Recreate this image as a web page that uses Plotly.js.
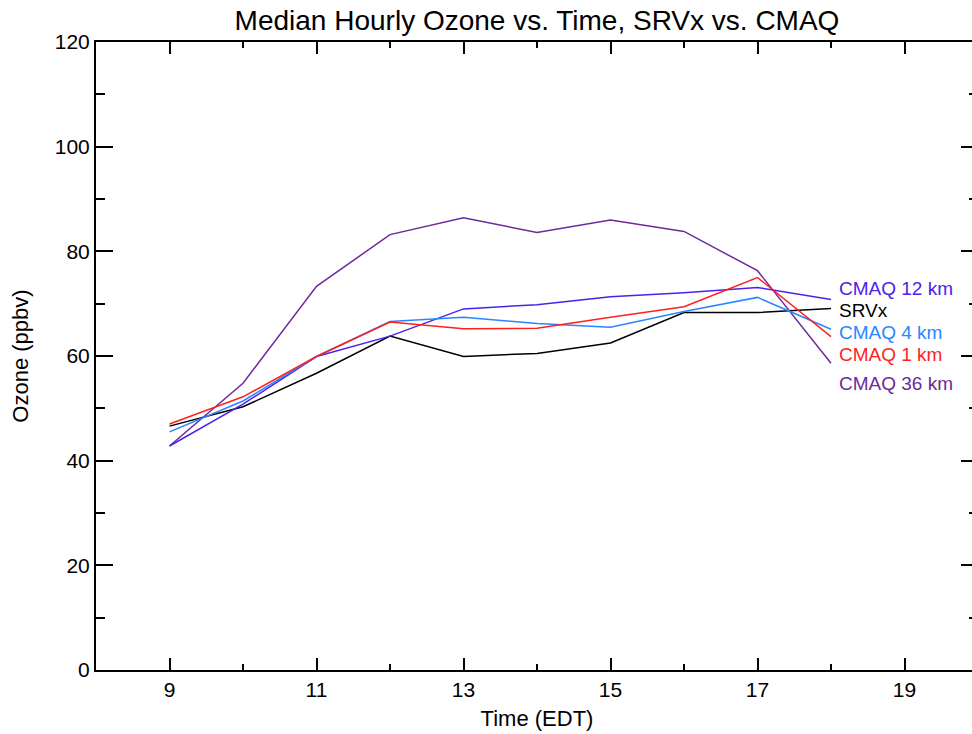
<!DOCTYPE html>
<html>
<head>
<meta charset="utf-8">
<script src="https://cdn.plot.ly/plotly-3.0.1.min.js"></script>
<style>
html, body { margin: 0; padding: 0; overflow: hidden; background: #fff; }
#chart { width: 978px; height: 734px; }
</style>
</head>
<body>
<div id="chart"></div>
<script>
const hours = [9, 10, 11, 12, 13, 14, 15, 16, 17, 18];
const srvx   = [46.6, 50.3, 56.7, 63.8, 59.9, 60.5, 62.5, 68.3, 68.3, 69.1];
const cmaq36 = [42.8, 54.8, 73.3, 83.2, 86.4, 83.6, 86.0, 83.8, 76.3, 58.6];
const cmaq12 = [42.8, 50.8, 59.9, 63.8, 69.0, 69.8, 71.3, 72.1, 73.1, 70.8];
const cmaq4  = [45.5, 51.4, 59.9, 66.6, 67.4, 66.2, 65.5, 68.5, 71.2, 65.1];
const cmaq1  = [47.0, 52.2, 59.9, 66.5, 65.2, 65.3, 67.4, 69.4, 75.0, 63.7];

const seriesNames = ["CMAQ 12 km", "SRVx", "CMAQ 4 km", "CMAQ 1 km", "CMAQ 36 km"];
const seriesData = [cmaq12, srvx, cmaq4, cmaq1, cmaq36];
const seriesColors = ["#4a22ee", "#000000", "#2a86ff", "#ff1f1f", "#6c2a9c"];
const labelY = [72.9, 68.6, 64.4, 60.2, 54.7];
const labelX = 18.1;

const drawOrder = [1, 4, 0, 2, 3];
const traces = drawOrder.map(i => ({
  x: hours, y: seriesData[i], type: 'scatter', mode: 'lines',
  name: seriesNames[i], line: { color: seriesColors[i], width: 1.5 },
  hoverinfo: 'skip'
}));

const annotations = seriesNames.map((n, i) => ({
  x: labelX, y: labelY[i], xref: 'x', yref: 'y', text: n, showarrow: false,
  xanchor: 'left', yanchor: 'middle', borderpad: 0,
  font: { family: 'Liberation Sans, Arial, sans-serif', size: 19, color: seriesColors[i] }
}));

const font = { family: 'Liberation Sans, Arial, sans-serif', size: 21, color: '#000' };
const titleFont = { family: 'Liberation Sans, Arial, sans-serif', size: 22, color: '#000' };

const layout = {
  width: 978, height: 734,
  margin: { l: 96, r: 0, t: 42, b: 64, pad: 0 },
  paper_bgcolor: '#fff', plot_bgcolor: '#fff',
  showlegend: false,
  font: font,
  title: { text: 'Median Hourly Ozone vs. Time, SRVx vs. CMAQ', x: 0.5, xref: 'paper',
           y: 1 - 20 / 734, yref: 'container', yanchor: 'middle',
           font: { family: 'Liberation Sans, Arial, sans-serif', size: 28, color: '#000' } },
  xaxis: {
    range: [8, 20], tick0: 9, dtick: 2, ticks: 'inside', ticklen: 12, tickwidth: 2,
    tickcolor: '#000', showline: true, linewidth: 2, linecolor: '#000', mirror: 'allticks',
    showgrid: false, zeroline: false,
    minor: { dtick: 1, tick0: 9, ticks: 'inside', ticklen: 6, tickwidth: 2, tickcolor: '#000', showgrid: false },
    tickfont: font,
    title: { text: 'Time (EDT)', font: titleFont, standoff: 10 }
  },
  yaxis: {
    range: [0, 120], tick0: 0, dtick: 20, ticks: 'inside', ticklen: 17, tickwidth: 2,
    tickcolor: '#000', showline: true, linewidth: 2, linecolor: '#000', mirror: 'allticks',
    showgrid: false, zeroline: false,
    minor: { dtick: 10, ticks: 'inside', ticklen: 9, tickwidth: 2, tickcolor: '#000', showgrid: false },
    tickfont: font,
    title: { text: 'Ozone (ppbv)', font: titleFont, standoff: 20 }
  },
  annotations: annotations
};

Plotly.newPlot('chart', traces, layout, { staticPlot: true, displayModeBar: false });
</script>
</body>
</html>
